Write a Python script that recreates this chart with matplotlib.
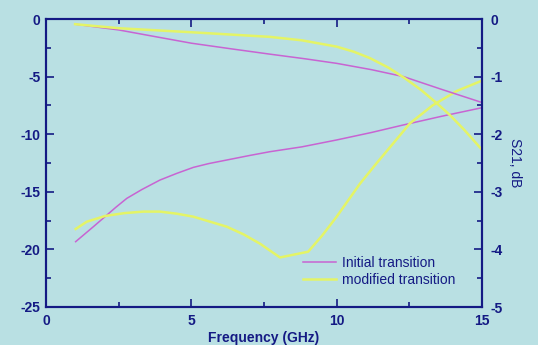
import matplotlib
matplotlib.use("Agg")
import matplotlib.pyplot as plt
from matplotlib.ticker import MultipleLocator

plt.rcParams['font.family'] = ['Liberation Sans', 'DejaVu Sans']
plt.rcParams['axes.unicode_minus'] = False

# Data
f_s21_init = [1.0, 2.5, 3.8, 5.0, 6.4, 7.7, 8.9, 10.0, 11.2, 12.3, 13.6, 15.0]
s21_init = [-0.09, -0.19, -0.31, -0.42, -0.52, -0.61, -0.69, -0.77, -0.88, -1.0, -1.22, -1.45]

f_s21_mod = [1.0, 2.5, 5.0, 7.7, 8.8, 10.0, 10.6, 11.15, 11.8, 12.35, 12.9, 13.44, 13.9, 14.4, 15.0]
s21_mod = [-0.09, -0.16, -0.23, -0.31, -0.37, -0.48, -0.57, -0.68, -0.85, -1.03, -1.23,
           -1.46, -1.67, -1.93, -2.27]

f_s11_init = [1.02, 1.63, 2.03, 2.4, 2.78, 3.3, 3.92, 4.5, 5.07, 5.6, 6.22, 7.0, 7.7, 8.8,
              10.0, 11.2, 12.29, 13.6, 15.0]
s11_init = [-19.33, -18.03, -17.16, -16.35, -15.57, -14.8, -13.98, -13.4, -12.88, -12.55,
            -12.24, -11.85, -11.52, -11.1, -10.5, -9.85, -9.2, -8.45, -7.7]

f_s11_mod = [1.02, 1.4, 2.03, 2.7, 3.35, 3.92, 4.5, 5.07, 6.22, 6.8, 7.36, 8.05, 9.02, 9.5,
             10.0, 10.8, 11.37, 12.52, 13.3, 14.13, 15.0]
s11_mod = [-18.23, -17.6, -17.1, -16.85, -16.72, -16.72, -16.9, -17.16, -18.03, -18.7, -19.5,
           -20.7, -20.2, -18.8, -17.16, -14.3, -12.53, -9.06, -7.5, -6.25, -5.35]

labels = ["Initial transition", "modified transition"]
x_ticks = [0, 5, 10, 15]

BG = "#b9e0e3"
NAVY = "#141a84"
MAG = "#c864d2"
YEL = "#e4f466"

fig = plt.figure(figsize=(5.38, 3.45), dpi=100, facecolor=BG)
ax = fig.add_axes([46/538, 1-307/345, 436/538, 288/345])
ax.set_facecolor(BG)
ax2 = ax.twinx()

l1, = ax.plot(f_s11_init, s11_init, color=MAG, lw=1.1)
l2, = ax.plot(f_s11_mod, s11_mod, color=YEL, lw=1.8)
ax2.plot(f_s21_init, s21_init, color=MAG, lw=1.1)
ax2.plot(f_s21_mod, s21_mod, color=YEL, lw=1.8)

ax.set_xlim(0, 15)
ax.set_ylim(-25, 0)
ax2.set_ylim(-5, 0)
ax.set_xticks(x_ticks)
ax.xaxis.set_minor_locator(MultipleLocator(2.5))
ax.yaxis.set_major_locator(MultipleLocator(5))
ax.yaxis.set_minor_locator(MultipleLocator(2.5))
ax2.yaxis.set_major_locator(MultipleLocator(1))
ax2.yaxis.set_minor_locator(MultipleLocator(0.5))

for a in (ax, ax2):
    for s in a.spines.values():
        s.set_color(NAVY)
        s.set_linewidth(1.5)
ax.tick_params(axis='both', which='both', direction='in', colors=NAVY, top=True,
               labelsize=10, width=1.2)
ax.tick_params(which='major', length=6)
ax.tick_params(which='minor', length=3.5)
ax.tick_params(axis='y', pad=4)
ax.tick_params(axis='x', pad=5)
ax2.tick_params(axis='y', which='both', direction='in', colors=NAVY, labelsize=10, width=1.2, pad=6)
ax2.tick_params(which='major', length=6)
ax2.tick_params(which='minor', length=3.5)
for lab in ax.get_xticklabels() + ax.get_yticklabels() + ax2.get_yticklabels():
    lab.set_fontweight('bold')

ax.set_xlabel("Frequency (GHz)", color=NAVY, fontsize=10, fontweight='bold', labelpad=2)
ax2.set_ylabel("S21, dB", color=NAVY, fontsize=10, rotation=270, labelpad=14)

leg = ax.legend([l1, l2], labels, loc='upper left', frameon=False,
                bbox_to_anchor=(303/538, 1-256/345), bbox_transform=fig.transFigure,
                fontsize=10, handlelength=2.4, handletextpad=0.4, borderpad=0,
                borderaxespad=0, labelspacing=0.2)
for t in leg.get_texts():
    t.set_color(NAVY)

fig.savefig("out.png", dpi=100, facecolor=BG)
